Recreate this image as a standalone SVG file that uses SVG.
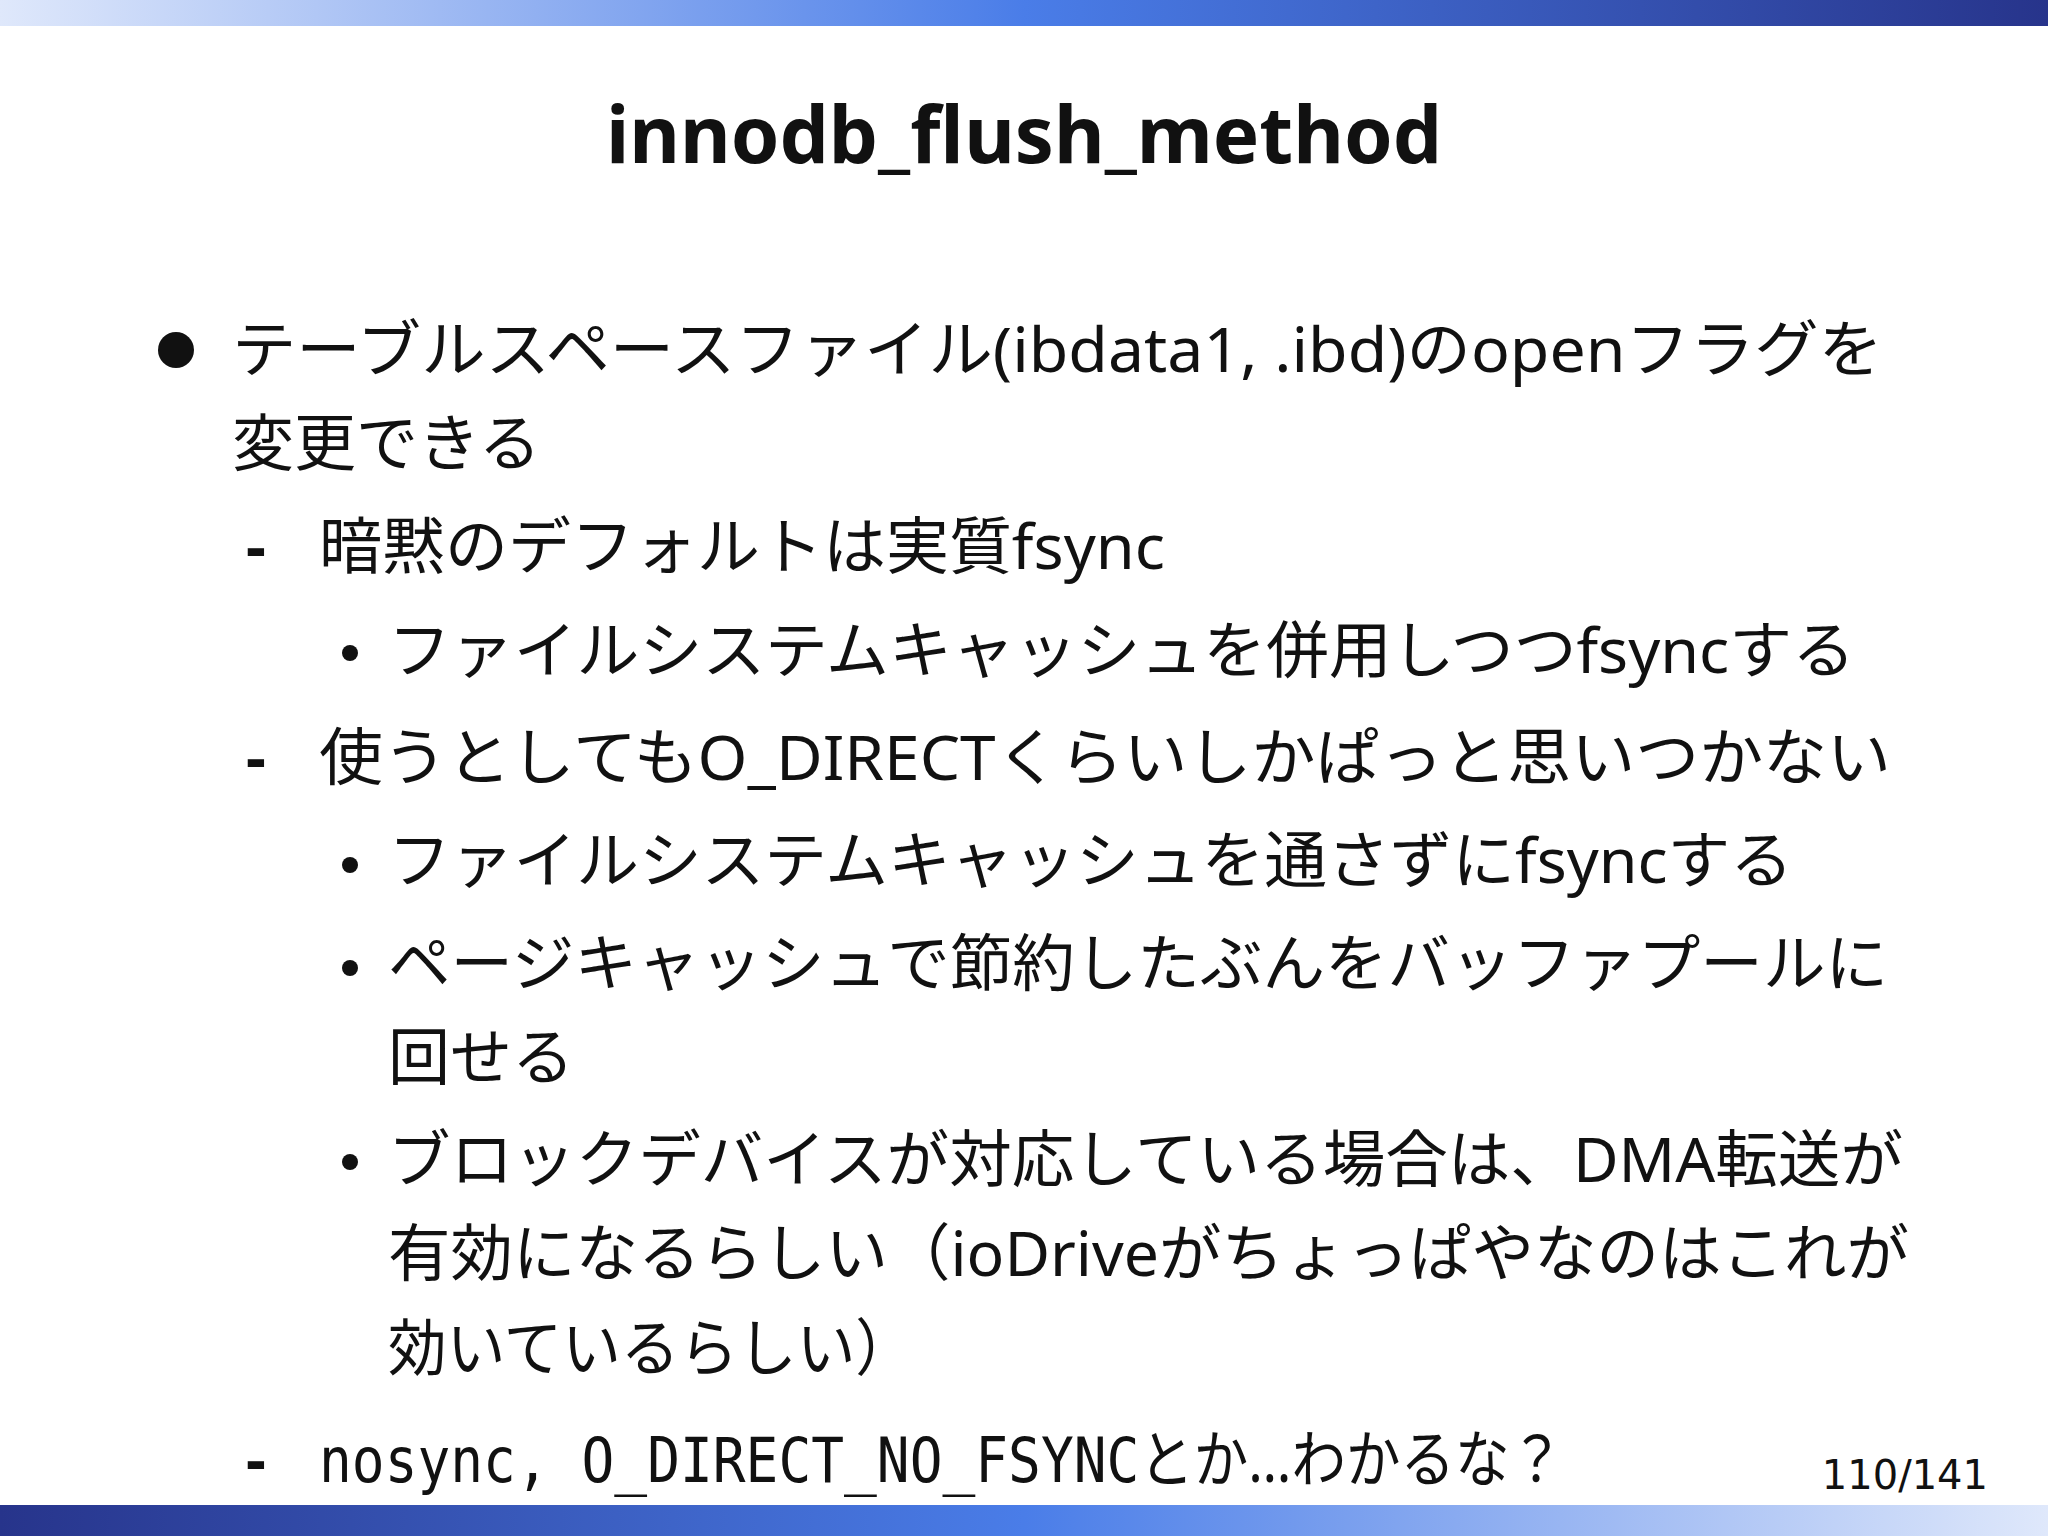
<svg xmlns="http://www.w3.org/2000/svg" width="2048" height="1536" viewBox="0 0 2048 1536">
<defs>
<linearGradient id="gt" x1="0" x2="1" y1="0" y2="0"><stop offset="0" stop-color="#dfe8fb"/><stop offset="0.5" stop-color="#4a7de8"/><stop offset="1" stop-color="#27348b"/></linearGradient>
<linearGradient id="gb" x1="0" x2="1" y1="0" y2="0"><stop offset="0" stop-color="#27348b"/><stop offset="0.5" stop-color="#4a7de8"/><stop offset="1" stop-color="#dfe8fb"/></linearGradient>
<style>
.t{font-family:"Noto Sans","Noto Sans CJK JP",sans-serif;font-size:62px;fill:#111}
.m{font-family:"DejaVu Sans Mono","Noto Sans CJK JP",monospace}
.d{font-family:"Noto Sans",sans-serif;font-size:62px;font-weight:bold;fill:#111}
</style>
</defs>
<rect width="2048" height="1536" fill="#fff"/>
<rect x="0" y="0" width="2048" height="26" fill="url(#gt)"/>
<rect x="0" y="1505" width="2048" height="31" fill="url(#gb)"/>
<text x="1024" y="163" text-anchor="middle" font-family="'Noto Sans',sans-serif" font-weight="bold" font-size="78" fill="#111">innodb_flush_method</text>
<circle cx="176" cy="350" r="18" fill="#111"/>
<text class="t" x="232" y="372" textLength="1651" lengthAdjust="spacingAndGlyphs">テーブルスペースファイル(ibdata1, .ibd)のopenフラグを</text>
<text class="t" x="232" y="466">変更できる</text>
<text class="d" x="246" y="569">-</text>
<text class="t" x="319" y="569" textLength="846" lengthAdjust="spacingAndGlyphs">暗黙のデフォルトは実質fsync</text>
<circle cx="350" cy="653" r="8" fill="#111"/>
<text class="t" x="388" y="673" textLength="1467" lengthAdjust="spacingAndGlyphs">ファイルシステムキャッシュを併用しつつfsyncする</text>
<text class="d" x="246" y="780">-</text>
<text class="t" x="319" y="780" textLength="1572" lengthAdjust="spacingAndGlyphs">使うとしてもO_DIRECTくらいしかぱっと思いつかない</text>
<circle cx="350" cy="865" r="8" fill="#111"/>
<text class="t" x="388" y="883" textLength="1405" lengthAdjust="spacingAndGlyphs">ファイルシステムキャッシュを通さずにfsyncする</text>
<circle cx="350" cy="968" r="8" fill="#111"/>
<text class="t" x="388" y="986" textLength="1500" lengthAdjust="spacingAndGlyphs">ページキャッシュで節約したぶんをバッファプールに</text>
<text class="t" x="388" y="1080">回せる</text>
<circle cx="350" cy="1162" r="8" fill="#111"/>
<text class="t" x="388" y="1182" textLength="1515" lengthAdjust="spacingAndGlyphs">ブロックデバイスが対応している場合は、DMA転送が</text>
<text class="t" x="388" y="1276" textLength="1521" lengthAdjust="spacingAndGlyphs">有効になるらしい（ioDriveがちょっぱやなのはこれが</text>
<text class="t" x="388" y="1371" textLength="526" lengthAdjust="spacingAndGlyphs">効いているらしい）</text>
<text class="d" x="246" y="1482">-</text>
<text class="t" x="319" y="1482" textLength="1245" lengthAdjust="spacingAndGlyphs"><tspan class="m">nosync, O_DIRECT_NO_FSYNC</tspan>とか…わかるな？</text>
<text x="1988" y="1489" text-anchor="end" font-family="'DejaVu Sans',sans-serif" font-size="40" fill="#111">110/141</text>
</svg>
